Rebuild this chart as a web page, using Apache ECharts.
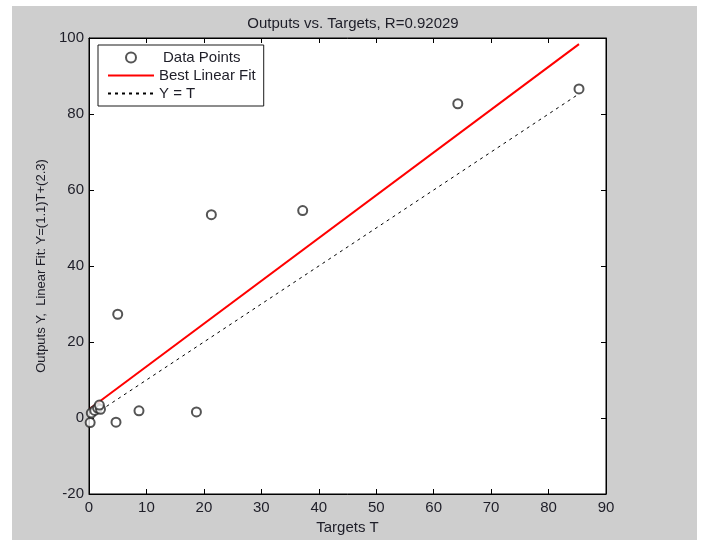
<!DOCTYPE html>
<html>
<head>
<meta charset="utf-8">
<script src="https://cdn.jsdelivr.net/npm/echarts@6/dist/echarts.min.js"></script>
<style>
html,body{margin:0;padding:0;background:#ffffff;}
#c{width:704px;height:540px;}
</style>
</head>
<body>
<div id="c"></div>
<script>
// Data points (Targets T, Outputs Y)
var targets = [85.3, 64.2, 37.2, 21.3, 5.0, 8.7, 18.7, 4.7, 0.2, 0.4, 1.0, 1.5, 2.0, 1.8];
var outputs = [86.6, 82.7, 54.6, 53.5, 27.3, 1.9, 1.6, -1.1, -1.2, 1.3, 2.0, 2.6, 2.3, 3.4];
// Best linear fit line endpoints
var fitX = [0.2, 85.3];
var fitY = [2.5, 98.4];
// Y = T reference line endpoints
var idX = [0, 85.3];
var idY = [0, 85.3];
// Axis ticks
var xTicks = [0, 10, 20, 30, 40, 50, 60, 70, 80, 90];
var yTicks = [-20, 0, 20, 40, 60, 80, 100];

var titleText = 'Outputs vs. Targets, R=0.92029';
var xName = 'Targets T';
var yName = 'Outputs Y,  Linear Fit: Y=(1.1)T+(2.3)';

function pairs(a, b) { return a.map(function (v, i) { return [v, b[i]]; }); }

var FONT = 'Arial, "Liberation Sans", sans-serif';
var TXT = '#1e1e28';
var chart = echarts.init(document.getElementById('c'), null, {renderer: 'canvas'});

var xMin = xTicks[0], xMax = xTicks[xTicks.length - 1], xInt = xTicks[1] - xTicks[0];
var yMin = yTicks[0], yMax = yTicks[yTicks.length - 1], yInt = yTicks[1] - yTicks[0];

var tickStyle = {show: true, inside: true, length: 5, lineStyle: {color: '#000', width: 1}};
var lineStyleAx = {show: true, onZero: false, lineStyle: {color: '#000', width: 1}};
var hidden = {color: 'rgba(0,0,0,0)', borderColor: 'rgba(0,0,0,0)', borderWidth: 0};

chart.setOption({
  animation: false,
  backgroundColor: 'transparent',
  graphic: [{
    type: 'rect', z: -100, silent: true,
    shape: {x: 12, y: 6, width: 685, height: 534},
    style: {fill: '#cecece'}
  }],
  title: {
    text: titleText, left: 348, top: 11, textAlign: 'center',
    textStyle: {fontFamily: FONT, fontSize: 15, fontWeight: 'normal', color: TXT}
  },
  grid: {left: 89, top: 38, right: 98, bottom: 46, show: true, backgroundColor: '#ffffff', borderColor: '#000', borderWidth: 1},
  legend: {
    left: 98, top: 45, orient: 'vertical',
    itemWidth: 46, itemHeight: 10, itemGap: 3,
    padding: [5, 8, 5, 9],
    backgroundColor: '#ffffff', borderColor: '#1a1a1a', borderWidth: 1, borderRadius: 0,
    textStyle: {fontFamily: FONT, fontSize: 15, color: TXT, rich: {p: {fontFamily: FONT, fontSize: 15, color: TXT, padding: [0, 0, 0, 4]}}},
    formatter: function (name) { return name === 'Data Points' ? '{p|' + name + '}' : name; },
    data: [
      {name: 'Data Points', icon: 'emptyCircle'},
      {name: 'Best Linear Fit', itemStyle: hidden},
      {name: 'Y = T', itemStyle: hidden}
    ]
  },
  xAxis: [{
    type: 'value', min: xMin, max: xMax, interval: xInt, position: 'bottom',
    name: xName, nameLocation: 'middle', nameGap: 23,
    nameTextStyle: {fontFamily: FONT, fontSize: 15, color: TXT},
    axisLine: lineStyleAx, axisTick: tickStyle, splitLine: {show: false},
    axisLabel: {fontFamily: FONT, fontSize: 15, color: TXT, margin: 6}
  }, {
    type: 'value', min: xMin, max: xMax, interval: xInt, position: 'top',
    axisLine: lineStyleAx, axisTick: tickStyle, splitLine: {show: false},
    axisLabel: {show: false}
  }],
  yAxis: [{
    type: 'value', min: yMin, max: yMax, interval: yInt, position: 'left',
    name: yName, nameLocation: 'middle', nameGap: 39,
    nameTextStyle: {fontFamily: FONT, fontSize: 13, color: TXT},
    axisLine: lineStyleAx, axisTick: tickStyle, splitLine: {show: false},
    axisLabel: {fontFamily: FONT, fontSize: 15, color: TXT, margin: 5}
  }, {
    type: 'value', min: yMin, max: yMax, interval: yInt, position: 'right',
    axisLine: lineStyleAx, axisTick: tickStyle, splitLine: {show: false},
    axisLabel: {show: false}
  }],
  series: [{
    name: 'Data Points', type: 'scatter', symbol: 'emptyCircle', symbolSize: 9,
    itemStyle: {color: '#2a2a2a', borderColor: '#2a2a2a', borderWidth: 1.3},
    data: pairs(targets, outputs), z: 5
  }, {
    name: 'Best Linear Fit', type: 'line', symbol: 'none',
    lineStyle: {color: '#ff0000', width: 2},
    itemStyle: {color: '#ff0000'},
    data: pairs(fitX, fitY), z: 3
  }, {
    name: 'Y = T', type: 'line', symbol: 'none',
    lineStyle: {color: '#000000', width: 1, type: [3, 4]},
    itemStyle: {color: '#000000'},
    data: pairs(idX, idY), z: 2
  }]
});
</script>
</body>
</html>
